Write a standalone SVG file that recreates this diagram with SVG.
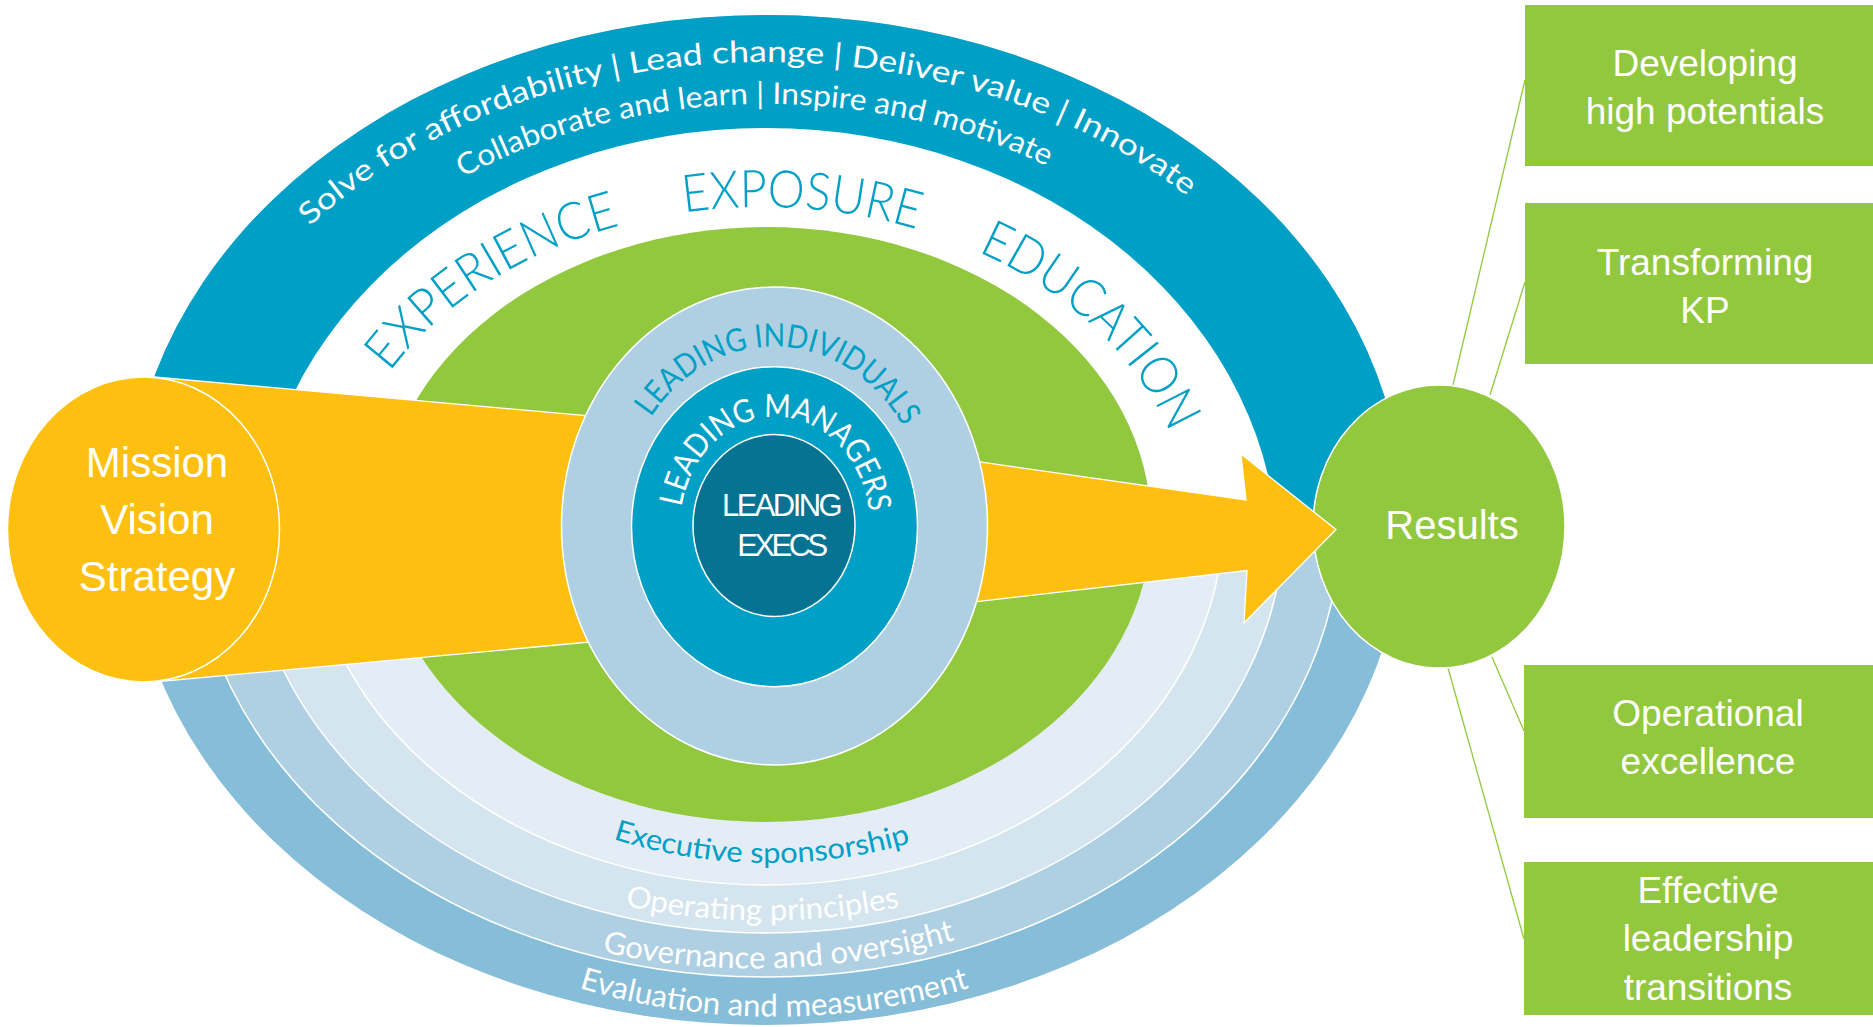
<svg xmlns="http://www.w3.org/2000/svg" width="1873" height="1027" viewBox="0 0 1873 1027">
  <style>
    .arc { font-family: Lato, "Open Sans", "Liberation Sans", sans-serif; }
    .white { fill: #ffffff; }
    .blue { fill: #00A0C6; }
    .sans { font-family: "Liberation Sans", Arial, sans-serif; fill: #ffffff; text-anchor: middle; }
    .edge { stroke: #ffffff; stroke-width: 1.5; }
    .box { fill: #92C83E; }
    .link { stroke: #92C83E; stroke-width: 1.3; fill: none; }
  </style>
  <defs>
    <clipPath id="upper">
      <rect x="0" y="0" width="1873" height="530"/>
    </clipPath>
    <!-- text baselines -->
    <path id="p-top1" d="M310,226.3 A580,430 0 0 1 1187,196.2"/>
    <path id="p-top2" d="M463,177.6 A500,360 0 0 1 1047,166.2"/>
    <path id="p-exper" d="M389.6,372 A430,330 0 0 1 616,226.6"/>
    <path id="p-expo" d="M684,212.5 A430,330 0 0 1 916,228.9"/>
    <path id="p-edu" d="M978,251.6 A430,330 0 0 1 1170,432.8"/>
    <path id="p-indiv" d="M651,417.2 A155,180 0 0 1 903,426.4"/>
    <path id="p-mgr" d="M681.6,507 A95,110 0 0 1 869.1,511.7"/>
    <path id="p-sponsor" d="M613,839 A516,516 0 0 0 911,843"/>
    <path id="p-oper" d="M625,906 A682,682 0 0 0 900,907"/>
    <path id="p-gov" d="M602,952 A720,720 0 0 0 955,940"/>
    <path id="p-eval" d="M579,988 A677,677 0 0 0 969,988"/>
  </defs>

  <rect width="1873" height="1027" fill="#ffffff"/>

  <!-- foundation bands (lower half) -->
  <g id="foundation-bands">
    <ellipse cx="766" cy="520" rx="638" ry="505" fill="#86BDD8"/>
    <ellipse cx="766" cy="520" rx="575" ry="457" fill="#AFD0E3" class="edge"/>
    <ellipse cx="766" cy="520" rx="518" ry="413" fill="#D4E5EF" class="edge"/>
    <ellipse cx="766" cy="520" rx="457" ry="365" fill="#E4EDF5" class="edge"/>
  </g>

  <!-- behaviours ring and development band (upper half) -->
  <g id="behaviour-ring" clip-path="url(#upper)">
    <ellipse cx="766" cy="520" rx="638" ry="505" fill="#00A0C6"/>
    <ellipse cx="766" cy="560" rx="512" ry="432" fill="#ffffff"/>
  </g>

  <g id="development-core">
    <ellipse cx="766" cy="524.5" rx="385" ry="297.5" fill="#92C83E"/>
  </g>

  <!-- connectors -->
  <g id="connectors">
    <line class="link" x1="1453" y1="385" x2="1525" y2="80"/>
    <line class="link" x1="1490" y1="395" x2="1525" y2="282"/>
    <line class="link" x1="1492" y1="657" x2="1524" y2="731"/>
    <line class="link" x1="1448" y1="668" x2="1524" y2="939"/>
  </g>

  <g id="results">
    <ellipse cx="1439" cy="526.5" rx="126" ry="141.5" fill="#92C83E" class="edge"/>
  </g>

  <!-- strategy arrow -->
  <g id="strategy-arrow">
    <polygon points="143,376 775,432.5 1246,500 1241,454 1336,529.5 1244,623 1247,570.5 775,625 143,683"
             fill="#FEC010" stroke="#ffffff" stroke-width="1.3" stroke-linejoin="miter"/>
  </g>

  <g id="leading-individuals">
    <ellipse cx="774.5" cy="526" rx="213" ry="239" fill="#AFD0E3" class="edge"/>
  </g>
  <g id="leading-managers">
    <ellipse cx="774.5" cy="526.7" rx="143" ry="160" fill="#00A0C6" class="edge"/>
  </g>
  <g id="leading-execs">
    <ellipse cx="774" cy="525.5" rx="81" ry="91" fill="#057391" class="edge"/>
    <text class="sans" x="781" y="515.5" font-size="31" letter-spacing="-2.6">LEADING</text>
    <text class="sans" x="781" y="556" font-size="31" letter-spacing="-3.5">EXECS</text>
  </g>

  <g id="mission">
    <ellipse cx="143.5" cy="529.5" rx="136" ry="152.5" fill="#FEC010" class="edge"/>
    <text class="sans" x="157" y="476.7" font-size="42">Mission</text>
    <text class="sans" x="157" y="534.3" font-size="42">Vision</text>
    <text class="sans" x="157" y="590.7" font-size="42">Strategy</text>
  </g>

  <g id="results-label">
    <text class="sans" x="1452" y="539" font-size="40">Results</text>
  </g>

  <!-- arc labels -->
  <g id="ring-labels" class="arc">
    <text class="white" font-size="30"><textPath href="#p-top1" textLength="946" lengthAdjust="spacingAndGlyphs">Solve for affordability  |  Lead change  |  Deliver value  |  Innovate</textPath></text>
    <text class="white" font-size="30"><textPath href="#p-top2" textLength="605" lengthAdjust="spacingAndGlyphs">Collaborate and learn  |  Inspire and motivate</textPath></text>
    <text class="blue" font-size="52" font-weight="300"><textPath href="#p-exper" textLength="278" lengthAdjust="spacingAndGlyphs">EXPERIENCE</textPath></text>
    <text class="blue" font-size="52" font-weight="300"><textPath href="#p-expo" textLength="235" lengthAdjust="spacingAndGlyphs">EXPOSURE</textPath></text>
    <text class="blue" font-size="52" font-weight="300"><textPath href="#p-edu" textLength="270" lengthAdjust="spacingAndGlyphs">EDUCATION</textPath></text>
    <text class="blue" font-size="32"><textPath href="#p-indiv" textLength="307" lengthAdjust="spacingAndGlyphs">LEADING INDIVIDUALS</textPath></text>
    <text class="white" font-size="32"><textPath href="#p-mgr" textLength="287" lengthAdjust="spacingAndGlyphs">LEADING MANAGERS</textPath></text>
    <text class="blue" font-size="29"><textPath href="#p-sponsor" textLength="302" lengthAdjust="spacingAndGlyphs">Executive sponsorship</textPath></text>
    <text class="white" font-size="30"><textPath href="#p-oper" textLength="277" lengthAdjust="spacingAndGlyphs">Operating principles</textPath></text>
    <text class="white" font-size="31"><textPath href="#p-gov" textLength="357" lengthAdjust="spacingAndGlyphs">Governance and oversight</textPath></text>
    <text class="white" font-size="31"><textPath href="#p-eval" textLength="396" lengthAdjust="spacingAndGlyphs">Evaluation and measurement</textPath></text>
  </g>

  <!-- outcome boxes -->
  <g id="box-high-potentials">
    <rect class="box" x="1525" y="5" width="348" height="161"/>
    <text class="sans" x="1705" y="76" font-size="37">Developing</text>
    <text class="sans" x="1705" y="124" font-size="37">high potentials</text>
  </g>
  <g id="box-transforming">
    <rect class="box" x="1525" y="203" width="348" height="161"/>
    <text class="sans" x="1705" y="275" font-size="37">Transforming</text>
    <text class="sans" x="1705" y="323" font-size="37">KP</text>
  </g>
  <g id="box-operational">
    <rect class="box" x="1524" y="665" width="349" height="153"/>
    <text class="sans" x="1708" y="726" font-size="37">Operational</text>
    <text class="sans" x="1708" y="774" font-size="37">excellence</text>
  </g>
  <g id="box-transitions">
    <rect class="box" x="1524" y="862" width="349" height="153"/>
    <text class="sans" x="1708" y="903" font-size="37">Effective</text>
    <text class="sans" x="1708" y="951" font-size="37">leadership</text>
    <text class="sans" x="1708" y="1000" font-size="37">transitions</text>
  </g>
</svg>
